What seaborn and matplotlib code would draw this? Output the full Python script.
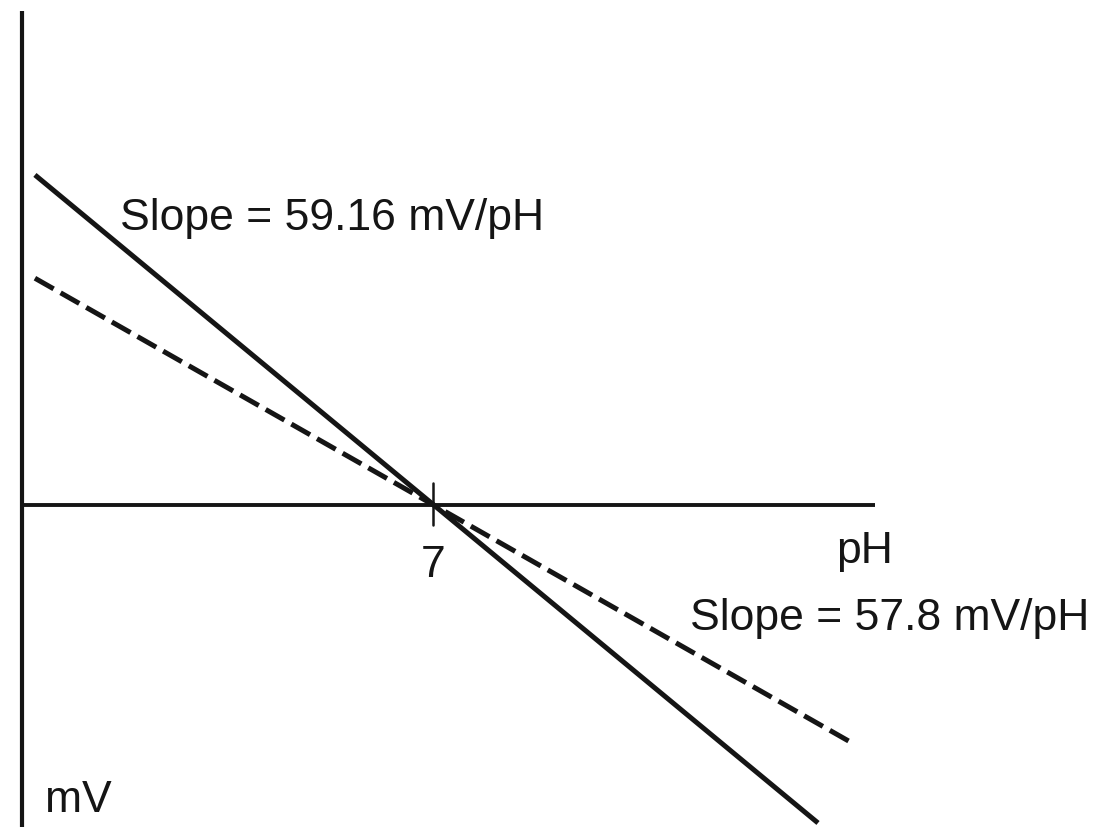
import seaborn as sns
import pandas as pd
import numpy as np
import matplotlib.pyplot as plt

# schematic electrode response lines (pH vs mV), endpoints
ideal_ph = [0.22, 13.56]
ideal_mv = [401.7, -387.0]
real_ph = [0.22, 14.10]
real_mv = [276.0, -288.0]

ideal_label = 'Slope = 59.16 mV/pH'
real_label = 'Slope = 57.8 mV/pH'
iso_ph = 7

sns.set_style('white')
plt.rcParams['font.family'] = ['Liberation Sans', 'DejaVu Sans']

fig = plt.figure(figsize=(10.98, 8.27), dpi=100)
ax = fig.add_axes([0, 0, 1, 1])
ax.set_xlim(-0.375, 18.33)
ax.set_ylim(-391.9, 614.6)
ax.axis('off')

ink = '#151515'

# axes drawn as plain lines
ax.plot([0, 0], [601.2, -391.9], color=ink, lw=3.0, solid_capstyle='butt')
ax.plot([0, 14.53], [0, 0], color=ink, lw=2.8, solid_capstyle='butt')
ax.plot([iso_ph, iso_ph], [26.8, -24.3], color=ink, lw=1.8)

ideal = pd.DataFrame({'pH': ideal_ph, 'mV': ideal_mv})
real = pd.DataFrame({'pH': real_ph, 'mV': real_mv})
sns.lineplot(data=ideal, x='pH', y='mV', color=ink, lw=3.6, ax=ax,
             solid_capstyle='butt')
sns.lineplot(data=real, x='pH', y='mV', color=ink, lw=3.6, ax=ax,
             dashes=False, linestyle=(0, (4.3, 1.6)), dash_capstyle='butt')

fs = 32
ax.text(1.67, 334.7, ideal_label, fontsize=fs, color=ink, ha='left', va='baseline')
ax.text(11.38, -152.0, real_label, fontsize=fs, color=ink, ha='left', va='baseline')
ax.text(14.36, -70.6, 'pH', fontsize=fs, color=ink, ha='center', va='baseline')
ax.text(iso_ph, -87.6, '7', fontsize=fs, color=ink, ha='center', va='baseline')
ax.text(0.39, -373.6, 'mV', fontsize=fs, color=ink, ha='left', va='baseline')

fig.savefig('out.png', dpi=100)
